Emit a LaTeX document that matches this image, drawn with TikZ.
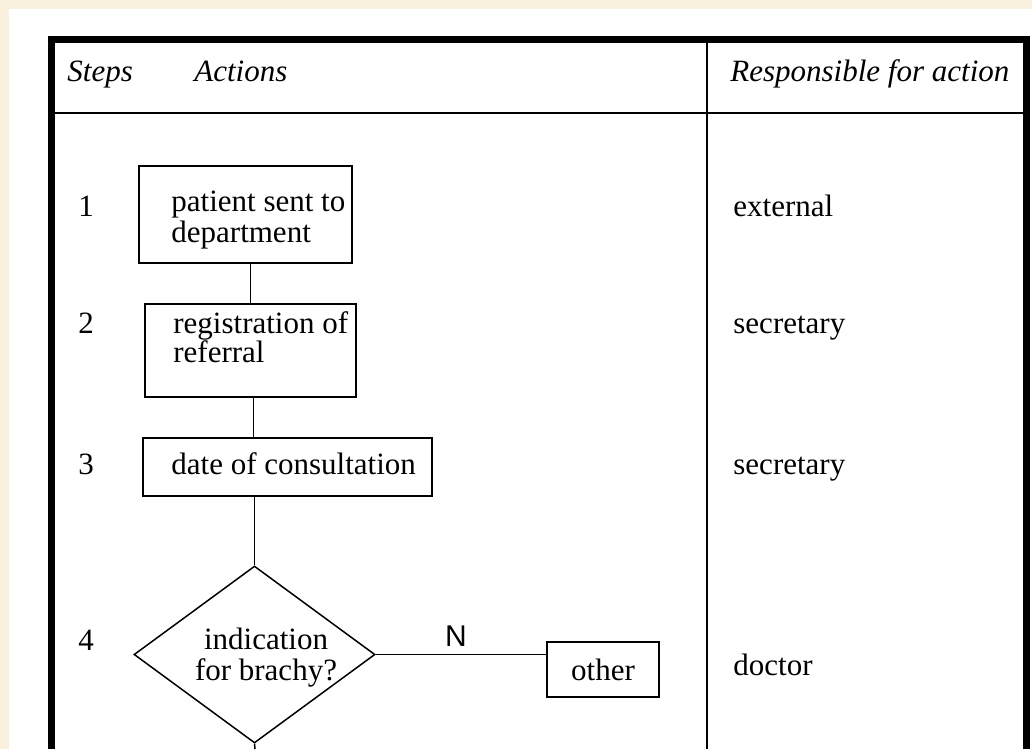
\documentclass[tikz,border=0pt]{standalone}
\usepackage{fontspec}
\setmainfont{Liberation Serif}
\newfontfamily\labelfont{Liberation Sans}
\usetikzlibrary{shapes.geometric}
\definecolor{paper}{RGB}{250,240,222}
\tikzset{
  box/.style={draw, rectangle, line width=0.75pt, inner sep=0pt},
  decision/.style={draw, diamond, line width=0.75pt, inner sep=0pt},
  txt/.style={inner sep=0pt, align=left, font=\fontsize{15.5}{14}\selectfont},
  link/.style={line width=0.75pt},
}

\begin{document}
\begin{tikzpicture}[x=0.5pt,y=-0.5pt]
	\fill[paper] (0,0) rectangle (1032,749);
	\fill[white] (9,9) rectangle (1032,749);
	\useasboundingbox (0,0) rectangle (1032,749);
	\draw[line width=3.5pt] (51,749) -- (51,40) -- (1026,40) -- (1026,749);
	\draw[link] (51,113) -- (1026,113);
	\draw[link] (707,40) -- (707,749);
	\node[txt, anchor=base west] (hsteps) at (67,82) {\itshape Steps};
	\node[txt, anchor=base west] (hactions) at (194,82) {\itshape Actions};
	\node[txt, anchor=base west] (hresp) at (730,82) {\itshape Responsible for action};
	\node[txt, anchor=base west] (n1) at (78,216) {1};
	\node[txt, anchor=base west] (n2) at (78,333) {2};
	\node[txt, anchor=base west] (n3) at (78,474) {3};
	\node[txt, anchor=base west] (n4) at (78,650) {4};
	\node[box, minimum width=106.5pt, minimum height=48.5pt] (sent) at (245.5,214.5) {};
	\node[txt, anchor=base west] (senttxt) at (171,242) {patient sent to\\department};
	\node[box, minimum width=105.5pt, minimum height=46.5pt] (reg) at (250.5,350.5) {};
	\node[txt, anchor=base west, font=\fontsize{15.5}{14.5}\selectfont] (regtxt) at (173,362) {registration of\\referral};
	\node[box, minimum width=144.5pt, minimum height=29pt] (date) at (287.5,467) {};
	\node[txt, anchor=base west] (datetxt) at (171,474) {date of consultation};
	\node[decision, minimum width=120.5pt, minimum height=88.5pt] (brachy) at (254.5,654.5) {};
	\node[txt, align=center, anchor=base, font=\fontsize{15.5}{15.5}\selectfont] (brachytxt) at (266,680) {indication\\for brachy?};
	\node[box, txt, draw, minimum width=56pt, minimum height=27.5pt] (other) at (603,669.5) {other};
	\coordinate (down) at (255,749);
	\draw[link] (reg.north) -- (reg.north |- sent.south);
	\draw[link] ([xshift=1.5pt]reg.south) -- ([xshift=1.5pt]reg.south |- date.north);
	\draw[link] (brachy.north) -- (brachy.north |- date.south);
	\draw[link] (brachy.south) -- (down);
	\draw[link] (brachy.east) -- (brachy.east -| other.west) node[pos=0.47, above=3.5pt, inner sep=0pt, font=\labelfont\fontsize{15}{18}\selectfont] (no) {N};
	\node[txt, anchor=base west] (r1) at (733,216) {external};
	\node[txt, anchor=base west] (r2) at (733,333) {secretary};
	\node[txt, anchor=base west] (r3) at (733,474) {secretary};
	\node[txt, anchor=base west] (r4) at (733,675) {doctor};
\end{tikzpicture}
\end{document}
